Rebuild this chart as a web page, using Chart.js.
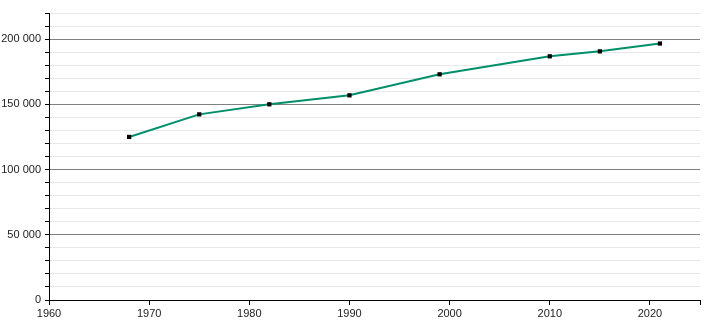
<!DOCTYPE html>
<html><head><meta charset="utf-8">
<script src="https://cdn.jsdelivr.net/npm/chart.js@4/dist/chart.umd.min.js"></script>
<style>html,body{margin:0;padding:0;background:#fff}#wrap{width:710px;height:320px}</style>
</head><body><div id="wrap"><canvas id="c" width="710" height="320"></canvas></div>
<script>
const years = [1968, 1975, 1982, 1990, 1999, 2010, 2015, 2021];
const population = [125000, 142300, 150000, 156900, 173000, 186800, 190600, 196600];
const xRange = [1960, 2025];
const yRange = [0, 220000];

const fmt = v => String(v).replace(/\B(?=(\d{3})+(?!\d))/g, ' ');
new Chart(document.getElementById('c'), {
  type: 'scatter',
  data: { datasets: [{
    data: years.map((y, i) => ({ x: y, y: population[i] })),
    showLine: true, borderColor: '#008f6c', borderWidth: 2,
    pointStyle: 'rect', pointRadius: 3, pointBackgroundColor: '#000', pointBorderColor: '#000', pointBorderWidth: 0,
    tension: 0
  }]},
  options: {
    responsive: false, animation: false, devicePixelRatio: 1,
    layout: { padding: { top: 13, right: 10, left: 0, bottom: 0 } },
    plugins: { legend: { display: false }, tooltip: { enabled: false } },
    scales: {
      x: {
        type: 'linear', min: xRange[0], max: xRange[1],
        afterFit: s => { s.height = 20; },
        ticks: { stepSize: 10, color: '#222', font: { family: 'Liberation Sans, Arial', size: 11 }, padding: 2, maxRotation: 0,
          callback: v => (v % 10 === 0 ? String(v) : '') },
        grid: { drawOnChartArea: false, tickLength: 5, tickColor: '#000' },
        border: { color: '#000', width: 1 }
      },
      y: {
        min: yRange[0], max: yRange[1],
        afterFit: s => { s.width = 49; },
        ticks: { stepSize: 10000, color: '#222', font: { family: 'Liberation Sans, Arial', size: 11 }, padding: 4,
          autoSkip: false,
          callback: v => (v % 50000 === 0 ? fmt(v) : '') },
        grid: {
          tickLength: 4, tickColor: '#000',
          color: c => (c.tick && c.tick.value % 50000 === 0 ? '#808080' : '#e8e8e8'),
          lineWidth: 1
        },
        border: { color: '#000', width: 1 }
      }
    }
  }
});
</script></body></html>
